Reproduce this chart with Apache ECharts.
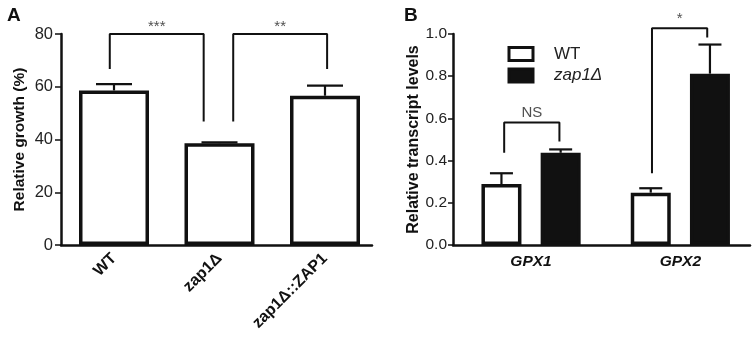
<!DOCTYPE html>
<html>
<head>
<meta charset="utf-8">
<script src="https://cdn.jsdelivr.net/npm/echarts@6/dist/echarts.min.js"></script>
<style>
  html, body { margin: 0; padding: 0; background: #fff; }
  #chart { width: 755px; height: 337px; }
</style>
</head>
<body>
<div id="chart"></div>
<script>
  // ---- panel A: relative growth ----
  var strainsA = ['WT', 'zap1Δ', 'zap1Δ::ZAP1'];
  var growthA = [58.6, 38.6, 56.6];
  var growthErrA = [2.4, 0.3, 3.8];
  var yMaxA = 80;
  // significance brackets, x in category units
  var bracketA1 = [[-0.04, 66.7], [-0.04, 80], [0.85, 80], [0.85, 46.8]];
  var bracketA2 = [[1.13, 46.8], [1.13, 80], [2.02, 80], [2.02, 66.7]];
  var starsA = [[0.405, 80, '***'], [1.575, 80, '**']];

  // ---- panel B: transcript levels ----
  var genesB = ['GPX1', 'GPX2'];
  var wtB = [0.289, 0.248];
  var wtErrB = [0.051, 0.021];
  var zapB = [0.437, 0.812];
  var zapErrB = [0.016, 0.138];
  var yMaxB = 1.0;
  var bracketB1 = [[-0.18, 0.437], [-0.18, 0.58], [0.19, 0.58], [0.19, 0.49]];
  var bracketB2 = [[0.81, 0.34], [0.81, 1.027], [1.18, 1.027], [1.18, 0.984]];
  var starsB = [[0.005, 0.58, 'NS'], [0.995, 1.027, '*']];

  var FONT = '"Liberation Sans", Arial, sans-serif';
  var INK = '#111';

  function errItem (offset, capW) {
    return function (params, api) {
      var base = api.coord([api.value(0), api.value(1)]);
      var top = api.coord([api.value(0), api.value(1) + api.value(2)]);
      var x = base[0] + offset;
      var st = { stroke: INK, lineWidth: 2.2, fill: null };
      return {
        type: 'group',
        children: [
          { type: 'line', shape: { x1: x, y1: base[1], x2: x, y2: top[1] }, style: st },
          { type: 'line', shape: { x1: x - capW / 2, y1: top[1], x2: x + capW / 2, y2: top[1] }, style: st }
        ]
      };
    };
  }

  function bracket (data, xi, yi) {
    return {
      type: 'line', xAxisIndex: xi, yAxisIndex: yi, data: data,
      symbol: 'none', clip: false, silent: true,
      lineStyle: { color: INK, width: 2 }, z: 5
    };
  }

  function stars (data, xi, yi, size, dist) {
    return {
      type: 'scatter', xAxisIndex: xi, yAxisIndex: yi, data: data,
      symbolSize: 0, silent: true, clip: false,
      label: {
        show: true, position: 'top', distance: dist,
        formatter: function (p) { return p.data[2]; },
        fontFamily: FONT, fontSize: size, color: '#222'
      }
    };
  }

  var myChart = echarts.init(document.getElementById('chart'), null, { renderer: 'canvas' });

  myChart.setOption({
    animation: false,
    backgroundColor: '#fff',
    textStyle: { fontFamily: FONT },
    graphic: [
      { type: 'text', left: 7, top: 6, style: { text: 'A', font: 'bold 19px ' + FONT, fill: INK } },
      { type: 'text', left: 404, top: 6, style: { text: 'B', font: 'bold 19px ' + FONT, fill: INK } }
    ],
    legend: {
      left: 507.5, top: 45.5, orient: 'vertical', padding: 0,
      icon: 'rect',
      itemWidth: 24, itemHeight: 13, itemGap: 4.5,
      data: [
        { name: 'WT', itemStyle: { color: '#fff', borderColor: INK, borderWidth: 3 } },
        { name: 'zap1Δ', itemStyle: { color: INK, borderColor: INK, borderWidth: 3 },
          textStyle: { fontStyle: 'italic' } }
      ],
      textStyle: { fontFamily: FONT, fontSize: 17, color: '#222', padding: [0, 0, 0, 16] }
    },
    grid: [
      { left: 61.25, top: 34, width: 316.5, height: 211 },
      { left: 61, top: 34, width: 311, height: 211 },
      { left: 456.4, top: 34, width: 317.2, height: 211 },
      { left: 453, top: 34, width: 297, height: 211 }
    ],
    xAxis: [
      {
        type: 'category', gridIndex: 0, data: strainsA,
        axisLine: { show: false },
        axisTick: { alignWithLabel: true, length: 6, lineStyle: { color: INK, width: 2 } },
        axisLabel: { rotate: 45, margin: 11, fontFamily: FONT, fontSize: 16, fontWeight: 'bold', color: INK }
      },
      { type: 'value', gridIndex: 0, min: -0.5, max: 2.5, show: false },
      {
        type: 'value', gridIndex: 1, min: 0, max: 1,
        axisLine: { show: true, lineStyle: { color: INK, width: 2.5 } },
        axisTick: { show: false }, axisLabel: { show: false }, splitLine: { show: false }
      },
      {
        type: 'category', gridIndex: 2, data: genesB,
        axisLine: { show: false },
        axisTick: { alignWithLabel: true, length: 6, lineStyle: { color: INK, width: 2 } },
        axisLabel: { margin: 9, fontFamily: FONT, fontSize: 15.5, fontWeight: 'bold', fontStyle: 'italic', color: INK }
      },
      { type: 'value', gridIndex: 2, min: -0.5, max: 1.5, show: false },
      {
        type: 'value', gridIndex: 3, min: 0, max: 1,
        axisLine: { show: true, lineStyle: { color: INK, width: 2.5 } },
        axisTick: { show: false }, axisLabel: { show: false }, splitLine: { show: false }
      }
    ],
    yAxis: [
      { type: 'value', gridIndex: 0, min: 0, max: yMaxA, show: false },
      {
        type: 'value', gridIndex: 1, min: 0, max: yMaxA, interval: 20,
        name: 'Relative growth (%)', nameLocation: 'middle', nameGap: 33,
        nameTextStyle: { fontFamily: FONT, fontSize: 15.5, fontWeight: 'bold', color: INK },
        axisLine: { show: true, lineStyle: { color: INK, width: 2.5 } },
        axisTick: { show: true, length: 6, lineStyle: { color: INK, width: 1.5 } },
        axisLabel: { margin: 8, fontFamily: FONT, fontSize: 16.5, color: '#222' },
        splitLine: { show: false }
      },
      { type: 'value', gridIndex: 2, min: 0, max: yMaxB, show: false },
      {
        type: 'value', gridIndex: 3, min: 0, max: yMaxB, interval: 0.2,
        name: 'Relative transcript levels', nameLocation: 'middle', nameGap: 31,
        nameTextStyle: { fontFamily: FONT, fontSize: 16, fontWeight: 'bold', color: INK },
        axisLine: { show: true, lineStyle: { color: INK, width: 2.5 } },
        axisTick: { show: true, length: 5, lineStyle: { color: INK, width: 1.5 } },
        axisLabel: { margin: 6, fontFamily: FONT, fontSize: 15.5, color: '#222',
          formatter: function (v) { return v.toFixed(1); } },
        splitLine: { show: false }
      }
    ],
    series: [
      {
        name: 'growth', type: 'bar', xAxisIndex: 0, yAxisIndex: 0,
        data: growthA, barWidth: 70,
        itemStyle: { color: '#fff', borderColor: INK, borderWidth: 3.5 }
      },
      {
        type: 'custom', xAxisIndex: 0, yAxisIndex: 0, silent: true, z: 4,
        data: growthA.map(function (v, i) { return [i, v, growthErrA[i]]; }),
        renderItem: errItem(0, 36)
      },
      bracket(bracketA1, 1, 0),
      bracket(bracketA2, 1, 0),
      stars(starsA, 1, 0, 15, 0),

      {
        name: 'WT', type: 'bar', xAxisIndex: 3, yAxisIndex: 2,
        data: wtB, barWidth: 40, barGap: '48%',
        itemStyle: { color: '#fff', borderColor: INK, borderWidth: 3.5 }
      },
      {
        name: 'zap1Δ', type: 'bar', xAxisIndex: 3, yAxisIndex: 2,
        data: zapB, barWidth: 40, barGap: '48%',
        itemStyle: { color: INK, borderColor: INK, borderWidth: 3.5 }
      },
      {
        type: 'custom', xAxisIndex: 3, yAxisIndex: 2, silent: true, z: 4,
        data: wtB.map(function (v, i) { return [i, v, wtErrB[i]]; }),
        renderItem: errItem(-29.6, 23)
      },
      {
        type: 'custom', xAxisIndex: 3, yAxisIndex: 2, silent: true, z: 4,
        data: zapB.map(function (v, i) { return [i, v, zapErrB[i]]; }),
        renderItem: errItem(29.6, 23)
      },
      bracket(bracketB1, 4, 2),
      bracket(bracketB2, 4, 2),
      stars(starsB, 4, 2, 15, 2)
    ]
  });
</script>
</body>
</html>
